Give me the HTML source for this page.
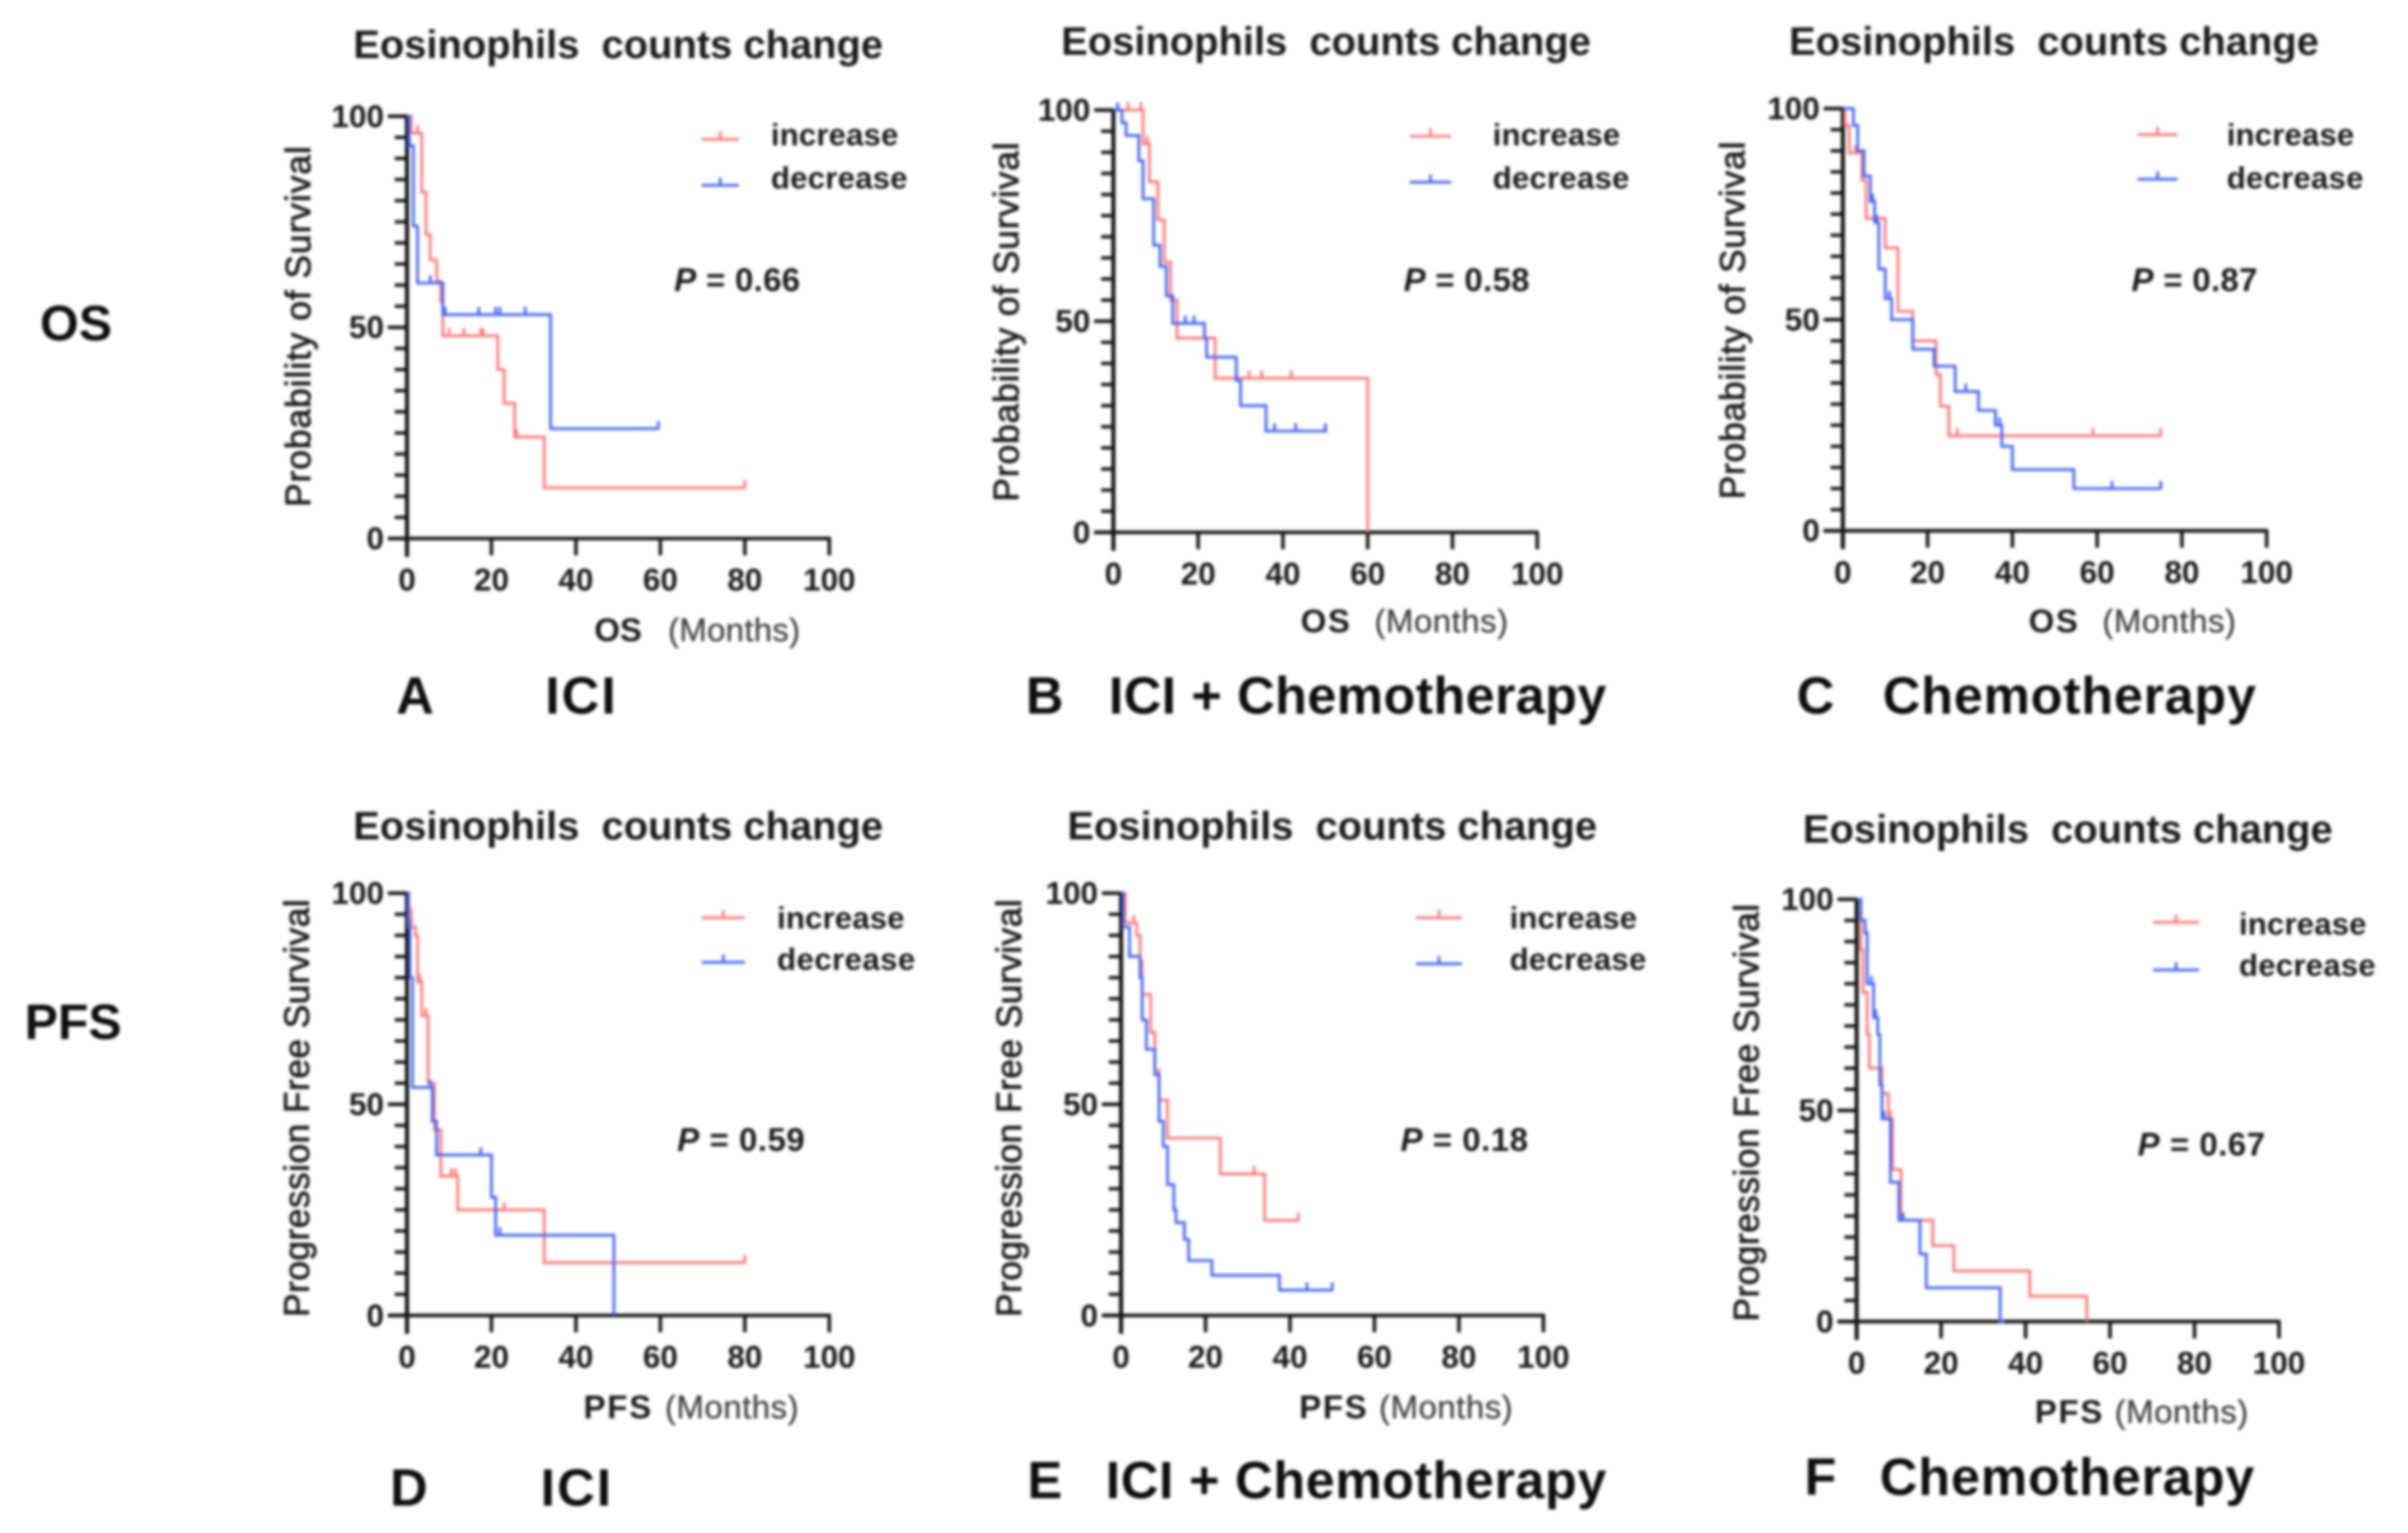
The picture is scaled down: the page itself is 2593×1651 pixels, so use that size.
<!DOCTYPE html>
<html lang="en">
<head>
<meta charset="utf-8">
<title>Eosinophils counts change survival curves</title>
<style>
html,body{margin:0;padding:0;background:#fff;width:2593px;height:1651px;overflow:hidden}
#figure{display:block;filter:blur(1.6px)}
text{font-family:"Liberation Sans",Arial,sans-serif;fill:#1a1a1a}
.title{font-size:26px;font-weight:bold}
.ytitle{font-size:23px;stroke:#1a1a1a;stroke-width:.5px}
.xbold{font-size:21.5px;font-weight:bold}
.xreg{font-size:21.5px;fill:#3c3c3c;stroke:#3c3c3c;stroke-width:.15px}
.leg{font-size:20.3px;font-weight:bold}
.pval{font-size:21.5px;font-weight:bold}
.tag{font-size:34px;font-weight:bold;fill:#0e0e0e}
.row{font-size:32.5px;font-weight:bold;fill:#0e0e0e}
.tick{font-size:20.5px;font-weight:bold}
</style>
</head>
<body>
<svg id="figure" xmlns="http://www.w3.org/2000/svg" width="2593" height="1651" viewBox="0 -0.7 1568 998.4">
<rect y="-1" width="1568" height="1000" fill="#fff"/>

<text class="row" x="26" y="221">OS</text>
<text class="row" x="16" y="676">PFS</text>

<!-- Panel A -->
<text class="title" x="230" y="37" textLength="345">Eosinophils&#160; counts change</text>
<text class="ytitle" transform="rotate(-90 202 212)" x="202" y="212" text-anchor="middle" textLength="235">Probability of Survival</text>
<text class="xbold" x="387" y="417" textLength="31">OS</text>
<text class="xreg" x="435" y="417" textLength="86">(Months)</text>
<text class="leg" x="502" y="94" textLength="83">increase</text>
<text class="leg" x="502" y="122" textLength="89">decrease</text>
<text class="pval" x="439" y="189" textLength="82"><tspan font-style="italic">P</tspan> = 0.66</text>
<text class="tag" x="258" y="464">A</text>
<text class="tag" x="355" y="464" textLength="46">ICI</text>

<!-- Panel B -->
<text class="title" x="691" y="35" textLength="345">Eosinophils&#160; counts change</text>
<text class="ytitle" transform="rotate(-90 663 209)" x="663" y="209" text-anchor="middle" textLength="234">Probability of Survival</text>
<text class="xbold" x="847" y="411" textLength="32">OS</text>
<text class="xreg" x="895" y="411" textLength="87">(Months)</text>
<text class="leg" x="972" y="94" textLength="83">increase</text>
<text class="leg" x="972" y="122" textLength="89">decrease</text>
<text class="pval" x="914" y="189" textLength="82"><tspan font-style="italic">P</tspan> = 0.58</text>
<text class="tag" x="668" y="464">B</text>
<text class="tag" x="722" y="464" textLength="324">ICI + Chemotherapy</text>

<!-- Panel C -->
<text class="title" x="1165" y="35" textLength="345">Eosinophils&#160; counts change</text>
<text class="ytitle" transform="rotate(-90 1136 208)" x="1136" y="208" text-anchor="middle" textLength="233">Probability of Survival</text>
<text class="xbold" x="1321" y="411" textLength="32">OS</text>
<text class="xreg" x="1369" y="411" textLength="87">(Months)</text>
<text class="leg" x="1450" y="94" textLength="83">increase</text>
<text class="leg" x="1450" y="122" textLength="89">decrease</text>
<text class="pval" x="1388" y="189" textLength="82"><tspan font-style="italic">P</tspan> = 0.87</text>
<text class="tag" x="1170" y="464">C</text>
<text class="tag" x="1226" y="464" textLength="243">Chemotherapy</text>

<!-- Panel D -->
<text class="title" x="230" y="546" textLength="345">Eosinophils&#160; counts change</text>
<text class="ytitle" transform="rotate(-90 201 721)" x="201" y="721" text-anchor="middle" textLength="272">Progression Free Survival</text>
<text class="xbold" x="380" y="923" textLength="44">PFS</text>
<text class="xreg" x="433" y="923" textLength="87">(Months)</text>
<text class="leg" x="506" y="604" textLength="83">increase</text>
<text class="leg" x="506" y="631" textLength="90">decrease</text>
<text class="pval" x="441" y="749" textLength="83"><tspan font-style="italic">P</tspan> = 0.59</text>
<text class="tag" x="254" y="980">D</text>
<text class="tag" x="352" y="980" textLength="46">ICI</text>

<!-- Panel E -->
<text class="title" x="695" y="546" textLength="345">Eosinophils&#160; counts change</text>
<text class="ytitle" transform="rotate(-90 665 721)" x="665" y="721" text-anchor="middle" textLength="272">Progression Free Survival</text>
<text class="xbold" x="846" y="923" textLength="44">PFS</text>
<text class="xreg" x="898" y="923" textLength="87">(Months)</text>
<text class="leg" x="983" y="604" textLength="83">increase</text>
<text class="leg" x="983" y="631" textLength="89">decrease</text>
<text class="pval" x="912" y="749" textLength="83"><tspan font-style="italic">P</tspan> = 0.18</text>
<text class="tag" x="669" y="975">E</text>
<text class="tag" x="720" y="975" textLength="326">ICI + Chemotherapy</text>

<!-- Panel F -->
<text class="title" x="1174" y="548" textLength="345">Eosinophils&#160; counts change</text>
<text class="ytitle" transform="rotate(-90 1145 724)" x="1145" y="724" text-anchor="middle" textLength="272">Progression Free Survival</text>
<text class="xbold" x="1325" y="926" textLength="44">PFS</text>
<text class="xreg" x="1377" y="926" textLength="87">(Months)</text>
<text class="leg" x="1458" y="608" textLength="83">increase</text>
<text class="leg" x="1458" y="635" textLength="89">decrease</text>
<text class="pval" x="1392" y="752" textLength="83"><tspan font-style="italic">P</tspan> = 0.67</text>
<text class="tag" x="1175" y="973">F</text>
<text class="tag" x="1224" y="973" textLength="244">Chemotherapy</text>
</svg>

<script>
// Axis tick values
const xTickLabels = [0, 20, 40, 60, 80, 100];
const yTickLabels = [0, 50, 100];
const yMinorTicks = [5, 10, 15, 20, 25, 30, 35, 40, 45, 55, 60, 65, 70, 75, 80, 85, 90, 95];

// Panel A: OS, ICI
const aIncreaseMonths = [0, 1, 3.5, 4.5, 5.5, 7, 8, 8.5, 21.5, 23, 25.5, 32.5, 80];
const aIncreaseSurvival = [100, 96, 82, 72, 66, 61, 56, 48, 40, 32, 24, 12, 12];
const aIncreaseCensored = [2.5, 10, 13.5, 17.5, 18, 26, 80];
const aDecreaseMonths = [0, 0.5, 1.5, 2.5, 8.5, 34, 59.5];
const aDecreaseSurvival = [100, 93, 74, 60.5, 53, 26, 26];
const aDecreaseCensored = [0.6, 5.5, 9, 17, 21, 22, 28, 59.5];

// Panel B: OS, ICI + Chemotherapy
const bIncreaseMonths = [0, 7, 8.5, 10.5, 12, 13.5, 15, 24, 60];
const bIncreaseSurvival = [100, 92, 83, 74, 64, 55, 46, 36.5, 0];
const bIncreaseCensored = [1, 3.5, 6.5, 8, 32, 35, 42];
const bDecreaseMonths = [0, 2, 3, 6, 7, 9.5, 11, 12.5, 14, 21.5, 22, 29, 30, 36, 50.5];
const bDecreaseSurvival = [100, 97, 94, 88, 79, 68, 63, 56, 49.5, 46, 41.5, 36, 30, 24, 24];
const bDecreaseCensored = [1, 17, 19, 29, 36, 38, 43, 50];

// Panel C: OS, Chemotherapy
const cIncreaseMonths = [0, 0.5, 1.5, 4.5, 5.5, 10, 13, 16.5, 22, 23, 25, 75];
const cIncreaseSurvival = [100, 96, 89.5, 83, 74, 67, 52, 45, 37, 29.5, 22.5, 22.5];
const cIncreaseCensored = [0.5, 3, 27, 59, 75];
const cDecreaseMonths = [0, 2.5, 3.5, 5, 6.5, 7.5, 8.5, 10, 11.5, 16.5, 21.5, 26.5, 32, 36, 37.5, 40, 54.5, 75];
const cDecreaseSurvival = [100, 96, 90, 84, 78, 73, 62, 55, 50, 43, 39, 33, 28.5, 25, 20, 14.5, 10, 10];
const cDecreaseCensored = [5, 7, 8, 11, 29, 36, 37, 63.5, 75];

// Panel D: PFS, ICI
const dIncreaseMonths = [0, 0.5, 1, 2, 2.5, 3.5, 5, 6.5, 8, 12, 32.5, 80];
const dIncreaseSurvival = [100, 96, 92, 90, 79, 71, 55, 44, 33, 25, 12.5, 12.5];
const dIncreaseCensored = [1, 3, 4.5, 10.5, 11.5, 23, 80];
const dDecreaseMonths = [0, 0.3, 0.7, 1.3, 6, 7, 20, 21, 49];
const dDecreaseSurvival = [100, 92, 80, 54, 46, 38, 28, 19, 0];
const dDecreaseCensored = [0.5, 5.5, 7, 17.5, 21, 22];

// Panel E: PFS, ICI + Chemotherapy
const eIncreaseMonths = [0, 1, 3.7, 4.5, 5, 7, 8, 9, 11, 23.5, 34, 42];
const eIncreaseSurvival = [100, 93, 90, 84, 76, 67, 58, 51, 42, 33.5, 22.5, 22.5];
const eIncreaseCensored = [3, 31.5, 42];
const eDecreaseMonths = [0, 0.5, 2, 4.5, 5, 6, 8, 9, 10, 11, 12.5, 13, 15, 16, 21.5, 37.5, 50];
const eDecreaseSurvival = [100, 92, 85, 80, 70, 63, 57, 46, 40, 31, 25, 22, 18, 13, 9.5, 6, 6];
const eDecreaseCensored = [2, 9, 44, 50];

// Panel F: PFS, Chemotherapy
const fIncreaseMonths = [0, 1, 1.5, 2.5, 3, 6, 7.5, 8.5, 10.5, 18, 23, 41, 54.5];
const fIncreaseSurvival = [100, 88, 78, 68, 60, 54, 48, 36, 24, 18, 12, 6, 0];
const fIncreaseCensored = [2.5, 8];
const fDecreaseMonths = [0, 1, 2, 2.5, 4, 5, 5.5, 6, 8, 10, 15, 16.5, 34, 35];
const fDecreaseSurvival = [100, 95, 92, 80, 72, 68, 56, 48, 33, 24, 16, 8, 0, 0];
const fDecreaseCensored = [2, 3.5, 4.5, 6.5, 11];

const SVG_NS = 'http://www.w3.org/2000/svg';
const figure = document.getElementById('figure');
const INCREASE_COLOR = '#ff7a78';
const DECREASE_COLOR = '#4468fb';
const AXIS_COLOR = '#151515';

// Layout of each panel's plot frame (drawing geometry, not data)
const panels = [
  {id: 'a', left: 265, right: 540, top: 75, bottom: 350, legendX: [457, 481], legendY: [90, 120],
   inc: [aIncreaseMonths, aIncreaseSurvival, aIncreaseCensored], dec: [aDecreaseMonths, aDecreaseSurvival, aDecreaseCensored]},
  {id: 'b', left: 725, right: 1001, top: 71, bottom: 346, legendX: [918, 945], legendY: [88, 118],
   inc: [bIncreaseMonths, bIncreaseSurvival, bIncreaseCensored], dec: [bDecreaseMonths, bDecreaseSurvival, bDecreaseCensored]},
  {id: 'c', left: 1200, right: 1476, top: 70, bottom: 345, legendX: [1392, 1418], legendY: [87, 116],
   inc: [cIncreaseMonths, cIncreaseSurvival, cIncreaseCensored], dec: [cDecreaseMonths, cDecreaseSurvival, cDecreaseCensored]},
  {id: 'd', left: 265, right: 540, top: 581, bottom: 856, legendX: [457, 485], legendY: [597, 626],
   inc: [dIncreaseMonths, dIncreaseSurvival, dIncreaseCensored], dec: [dDecreaseMonths, dDecreaseSurvival, dDecreaseCensored]},
  {id: 'e', left: 730, right: 1005, top: 581, bottom: 856, legendX: [922, 952], legendY: [597, 627],
   inc: [eIncreaseMonths, eIncreaseSurvival, eIncreaseCensored], dec: [eDecreaseMonths, eDecreaseSurvival, eDecreaseCensored]},
  {id: 'f', left: 1209, right: 1484, top: 585, bottom: 860, legendX: [1402, 1432], legendY: [600, 631],
   inc: [fIncreaseMonths, fIncreaseSurvival, fIncreaseCensored], dec: [fDecreaseMonths, fDecreaseSurvival, fDecreaseCensored]}
];

function xScale(panel, months) {
  return panel.left + (months / 100) * (panel.right - panel.left);
}
function yScale(panel, percent) {
  return panel.bottom - (percent / 100) * (panel.bottom - panel.top);
}
function survivalAt(months, survival, t) {
  let value = survival[0];
  for (let i = 0; i < months.length; i++) {
    if (months[i] <= t) value = survival[i];
  }
  return value;
}
function drawLine(parent, x1, y1, x2, y2, color, width, name) {
  const el = document.createElementNS(SVG_NS, 'line');
  el.setAttribute('x1', x1);
  el.setAttribute('y1', y1);
  el.setAttribute('x2', x2);
  el.setAttribute('y2', y2);
  el.setAttribute('stroke', color);
  el.setAttribute('stroke-width', width);
  
  
  parent.appendChild(el);
}
function drawAxes(panel, group) {
  drawLine(group, panel.left, panel.top - 1, panel.left, panel.bottom + 12, AXIS_COLOR, 2.7, 'y-axis-line');
  drawLine(group, panel.left - 12.5, panel.bottom, panel.right + 1, panel.bottom, AXIS_COLOR, 2.4, 'x-axis-line');
  xTickLabels.forEach(function (v) {
    const x = xScale(panel, v);
    if (v > 0) {
      drawLine(group, x, panel.bottom, x, panel.bottom + 11, AXIS_COLOR, 2.3, 'x-axis-tick');
    }
    const label = document.createElementNS(SVG_NS, 'text');
    label.setAttribute('class', 'tick');
    label.setAttribute('x', x);
    label.setAttribute('y', panel.bottom + 34);
    label.setAttribute('text-anchor', 'middle');
    
    
    label.textContent = v;
    group.appendChild(label);
  });
  yTickLabels.forEach(function (v) {
    const y = yScale(panel, v);
    drawLine(group, panel.left - 12.5, y, panel.left, y, AXIS_COLOR, 2.3, 'y-axis-tick');
    const label = document.createElementNS(SVG_NS, 'text');
    label.setAttribute('class', 'tick');
    label.setAttribute('x', panel.left - 15);
    label.setAttribute('y', y + 7);
    label.setAttribute('text-anchor', 'end');
    
    
    label.textContent = v;
    group.appendChild(label);
  });
  yMinorTicks.forEach(function (v) {
    const y = yScale(panel, v);
    drawLine(group, panel.left - 8, y, panel.left, y, AXIS_COLOR, 2.2, 'y-axis-minor-tick');
  });
}
function drawSeries(panel, group, series, color, name) {
  const months = series[0];
  const survival = series[1];
  const censored = series[2];
  let d = 'M' + xScale(panel, months[0]) + ' ' + yScale(panel, survival[0]);
  for (let i = 1; i < months.length; i++) {
    d += 'H' + xScale(panel, months[i]) + 'V' + yScale(panel, survival[i]);
  }
  const curve = document.createElementNS(SVG_NS, 'path');
  curve.setAttribute('d', d);
  curve.setAttribute('fill', 'none');
  curve.setAttribute('stroke', color);
  curve.setAttribute('stroke-width', 1.8);
  
  
  group.appendChild(curve);
  censored.forEach(function (t) {
    const x = xScale(panel, t);
    const y = yScale(panel, survivalAt(months, survival, t));
    drawLine(group, x, y - 5, x, y + 0.5, color, 1.8, name + '-censor-mark');
  });
}
function drawLegendKey(panel, group, index, color, name) {
  const x1 = panel.legendX[0];
  const x2 = panel.legendX[1];
  const y = panel.legendY[index];
  drawLine(group, x1, y, x2, y, color, 1.8, name + '-legend-line');
  drawLine(group, (x1 + x2) / 2, y - 5, (x1 + x2) / 2, y, color, 1.8, name + '-legend-marker');
}
panels.forEach(function (panel) {
  const group = document.createElementNS(SVG_NS, 'g');
  
  
  figure.appendChild(group);
  drawAxes(panel, group);
  drawSeries(panel, group, panel.inc, INCREASE_COLOR, 'increase');
  drawSeries(panel, group, panel.dec, DECREASE_COLOR, 'decrease');
  drawLegendKey(panel, group, 0, INCREASE_COLOR, 'increase');
  drawLegendKey(panel, group, 1, DECREASE_COLOR, 'decrease');
});
</script>
</body>
</html>
